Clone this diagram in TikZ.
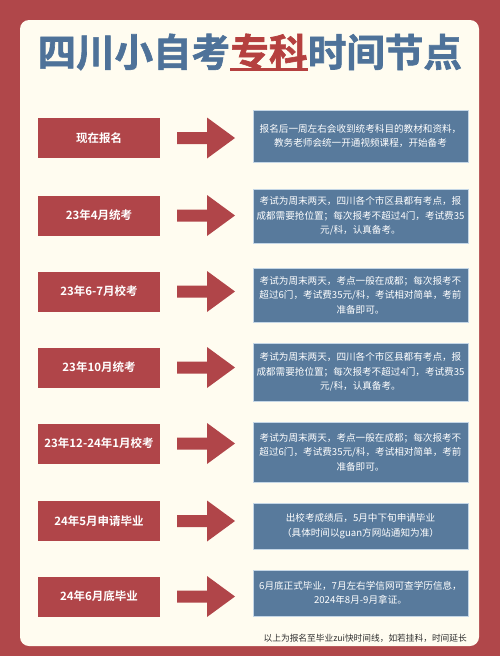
\documentclass[tikz,border=0pt]{standalone}
\usepackage{fontspec}
\setmainfont{Noto Sans CJK SC}[BoldFont={Noto Sans CJK SC Bold}]
\newfontfamily\titlefont{Noto Sans CJK SC Bold}[FakeBold=1.6]
\definecolor{bgred}{HTML}{B0474A}
\definecolor{cream}{HTML}{FFFCF0}
\definecolor{boxred}{HTML}{B04549}
\definecolor{boxblue}{HTML}{587A9C}
\definecolor{edgeblue}{HTML}{C4D6E6}
\definecolor{tblue}{HTML}{4E7299}
\definecolor{tred}{HTML}{B5403F}
\definecolor{foot}{HTML}{2E2E2E}
\tikzset{
  redbox/.style={fill=boxred, text=white, minimum width=122pt, minimum height=40pt, inner sep=0pt,
    font=\fontsize{11.5}{12}\selectfont\bfseries},
  bluebox/.style={fill=boxblue, draw=edgeblue, line width=0.6pt, text=white, minimum width=215pt,
    inner sep=0pt, align=center, font=\fontsize{9.6}{14.6}\selectfont},
  titletext/.style={inner sep=0pt, font=\fontsize{38.5}{40}\selectfont\titlefont},
  rarrow/.pic={\fill[boxred] (0,-6) -- (30,-6) -- (30,-20.5) -- (58,0) -- (30,20.5) -- (30,6) -- (0,6) -- cycle;}
}
\begin{document}
\begin{tikzpicture}[x=1pt,y=-1pt]
\fill[bgred] (0,0) rectangle (500,656);
\useasboundingbox (0,0) rectangle (500,656);
\fill[cream, rounded corners=9pt] (20,20) rectangle (479,646);
% title
\node[titletext, text=tred] (t2) at (269,52) {专科};
\node[titletext, text=tblue, anchor=east] (t1) at (t2.west) {四川小自考};
\node[titletext, text=tblue, anchor=west] (t3) at (t2.east) {时间节点};
\draw[tred, line width=3pt] ([yshift=1.5pt]t2.south west) -- ([yshift=1.5pt]t2.south east);
% rows
\node[redbox] (r1) at (99,138) {现在报名};
\pic at (177,138) {rarrow};
\node[bluebox, minimum height=52pt] (b1) at (360.5,136) {报名后一周左右会收到统考科目的教材和资料，\\教务老师会统一开通视频课程，开始备考};

\node[redbox] (r2) at (99,215.5) {23年4月统考};
\pic at (177,215.5) {rarrow};
\node[bluebox, minimum height=54pt] (b2) at (360.5,216) {考试为周末两天，四川各个市区县都有考点，报\\成都需要抢位置；每次报考不超过4门，考试费35\\元/科，认真备考。};

\node[redbox] (r3) at (99,291.5) {23年6-7月校考};
\pic at (177,291.5) {rarrow};
\node[bluebox, minimum height=54pt] (b3) at (360.5,295) {考试为周末两天，考点一般在成都；每次报考不\\超过6门，考试费35元/科，考试相对简单，考前\\准备即可。};

\node[redbox] (r4) at (99,367.5) {23年10月统考};
\pic at (177,367.5) {rarrow};
\node[bluebox, minimum height=58pt] (b4) at (360.5,372) {考试为周末两天，四川各个市区县都有考点，报\\成都需要抢位置；每次报考不超过4门，考试费35\\元/科，认真备考。};

\node[redbox] (r5) at (99,443.5) {23年12-24年1月校考};
\pic at (177,443.5) {rarrow};
\node[bluebox, minimum height=60pt] (b5) at (360.5,452) {考试为周末两天，考点一般在成都；每次报考不\\超过6门，考试费35元/科，考试相对简单，考前\\准备即可。};

\node[redbox] (r6) at (99,521) {24年5月申请毕业};
\pic at (177,521) {rarrow};
\node[bluebox, minimum height=46pt] (b6) at (360.5,526) {出校考成绩后，5月中下旬申请毕业\\（具体时间以guan方网站通知为准）};

\node[redbox] (r7) at (99,596.5) {24年6月底毕业};
\pic at (177,596.5) {rarrow};
\node[bluebox, minimum height=46pt] (b7) at (360.5,593) {6月底正式毕业，7月左右学信网可查学历信息，\\2024年8月-9月拿证。};
% footer
\node[anchor=east, inner sep=0pt, text=foot, font=\fontsize{8.7}{10}\selectfont] (ft) at (467,638) {以上为报名至毕业zui快时间线，如若挂科，时间延长};
\end{tikzpicture}
\end{document}
